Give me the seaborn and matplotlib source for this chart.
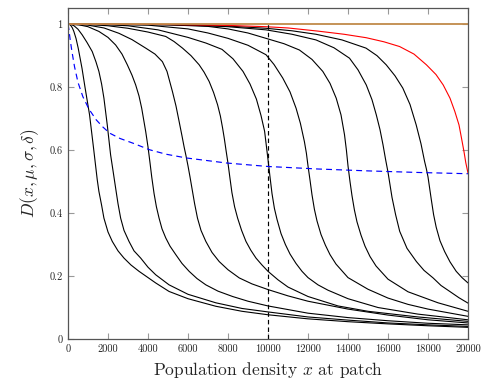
import matplotlib
matplotlib.use("Agg")
import matplotlib.pyplot as plt
import seaborn as sns

# ---------------- DATA ----------------
d1000_x = [0, 80, 150, 220, 292, 400, 510, 700, 844, 1078, 1278, 1462, 1545, 1680, 1796, 2000, 2214, 2500, 2799, 3150, 3551, 4386, 5054, 6000, 7390, 8700, 10000, 12000, 14000, 16000, 18000, 20000]
d1000_y = [1.0, 0.999, 0.995, 0.988, 0.977, 0.955, 0.924, 0.860, 0.802, 0.712, 0.606, 0.506, 0.469, 0.425, 0.384, 0.340, 0.310, 0.280, 0.257, 0.235, 0.215, 0.178, 0.151, 0.128, 0.104, 0.088, 0.077, 0.064, 0.055, 0.048, 0.042, 0.037]

d2000_x = [0, 150, 300, 500, 711, 950, 1212, 1400, 1545, 1680, 1796, 1963, 2130, 2250, 2380, 2500, 2632, 2800, 3050, 3300, 3635, 4000, 4386, 5054, 6000, 7390, 8700, 10000, 12000, 14000, 16000, 18000, 20000]
d2000_y = [1.0, 0.999, 0.995, 0.984, 0.966, 0.942, 0.913, 0.880, 0.850, 0.810, 0.765, 0.680, 0.585, 0.535, 0.480, 0.430, 0.384, 0.345, 0.310, 0.280, 0.257, 0.228, 0.204, 0.172, 0.142, 0.115, 0.097, 0.086, 0.070, 0.060, 0.051, 0.045, 0.040]

d4000_x = [0, 543, 1000, 1545, 2000, 2381, 2700, 2966, 3200, 3384, 3550, 3685, 3885, 4000, 4100, 4186, 4303, 4420, 4553, 4700, 4888, 5100, 5389, 5700, 6056, 6450, 6892, 7500, 8230, 9000, 10000, 12000, 14000, 16000, 18000, 20000]
d4000_y = [1.0, 0.998, 0.992, 0.977, 0.958, 0.934, 0.905, 0.871, 0.838, 0.807, 0.772, 0.733, 0.659, 0.610, 0.560, 0.515, 0.462, 0.420, 0.384, 0.350, 0.321, 0.295, 0.268, 0.240, 0.215, 0.192, 0.172, 0.152, 0.135, 0.120, 0.105, 0.082, 0.068, 0.058, 0.050, 0.045]

d6000_x = [0, 1000, 1800, 2548, 3200, 3885, 4350, 4720, 4950, 5222, 5400, 5556, 5700, 5806, 5900, 6000, 6100, 6200, 6330, 6474, 6650, 6892, 7200, 7560, 8000, 8563, 9200, 10000, 11000, 12000, 14000, 16000, 18000, 20000]
d6000_y = [1.0, 0.997, 0.988, 0.971, 0.951, 0.924, 0.905, 0.881, 0.850, 0.786, 0.740, 0.691, 0.645, 0.610, 0.582, 0.550, 0.515, 0.478, 0.430, 0.384, 0.345, 0.310, 0.275, 0.246, 0.220, 0.194, 0.175, 0.157, 0.137, 0.120, 0.095, 0.076, 0.061, 0.051]

d8000_x = [0, 1000, 2000, 3000, 4000, 4888, 5300, 5725, 6150, 6557, 6800, 7058, 7279, 7479, 7620, 7730, 7820, 7900, 8000, 8100, 8196, 8330, 8481, 8680, 8898, 9140, 9400, 9700, 10000, 10500, 11000, 12000, 13500, 15000, 17500, 20000]
d8000_y = [1.0, 0.999, 0.995, 0.987, 0.975, 0.961, 0.945, 0.924, 0.900, 0.871, 0.848, 0.818, 0.783, 0.744, 0.708, 0.670, 0.635, 0.600, 0.558, 0.510, 0.465, 0.420, 0.384, 0.345, 0.310, 0.282, 0.257, 0.235, 0.215, 0.188, 0.165, 0.135, 0.105, 0.088, 0.070, 0.056]

d10000_x = [0, 2000, 3000, 4500, 6000, 6900, 7700, 8250, 8750, 9100, 9420, 9650, 9830, 10000, 10100, 10200, 10320, 10450, 10650, 10870, 11100, 11400, 11700, 12000, 12500, 13000, 14000, 15500, 17500, 20000]
d10000_y = [1.0, 0.998, 0.995, 0.982, 0.958, 0.940, 0.920, 0.890, 0.850, 0.810, 0.762, 0.710, 0.660, 0.570, 0.515, 0.462, 0.415, 0.380, 0.335, 0.300, 0.270, 0.240, 0.215, 0.195, 0.172, 0.155, 0.128, 0.100, 0.079, 0.061]

d12000_x = [0, 2000, 4000, 6000, 7000, 8000, 9000, 9900, 10300, 10737, 11100, 11404, 11620, 11820, 11920, 12000, 12100, 12200, 12320, 12450, 12650, 12870, 13100, 13400, 14000, 15000, 16000, 17000, 18000, 20000]
d12000_y = [1.0, 0.999, 0.997, 0.985, 0.972, 0.955, 0.933, 0.903, 0.872, 0.829, 0.785, 0.733, 0.685, 0.627, 0.590, 0.550, 0.505, 0.458, 0.412, 0.375, 0.332, 0.298, 0.268, 0.238, 0.195, 0.158, 0.130, 0.110, 0.095, 0.072]

d14000_x = [0, 3000, 5000, 7000, 8000, 9000, 9900, 10800, 11570, 12200, 12740, 13100, 13410, 13650, 13825, 13920, 14000, 14100, 14200, 14320, 14450, 14650, 14850, 15100, 15400, 16000, 17000, 18500, 20000]
d14000_y = [1.0, 0.999, 0.998, 0.993, 0.985, 0.972, 0.955, 0.938, 0.918, 0.888, 0.850, 0.812, 0.765, 0.712, 0.649, 0.600, 0.550, 0.500, 0.455, 0.410, 0.372, 0.330, 0.295, 0.262, 0.232, 0.190, 0.150, 0.115, 0.088]

d16000_x = [0, 4000, 6000, 8000, 9900, 11200, 12400, 13300, 14075, 14500, 14913, 15200, 15415, 15600, 15750, 15880, 16000, 16100, 16200, 16380, 16585, 16950, 17420, 17800, 18255, 18650, 19090, 19550, 20000]
d16000_y = [1.0, 0.999, 0.997, 0.992, 0.982, 0.968, 0.950, 0.925, 0.892, 0.855, 0.807, 0.760, 0.712, 0.665, 0.617, 0.570, 0.530, 0.490, 0.450, 0.395, 0.342, 0.288, 0.246, 0.218, 0.194, 0.170, 0.151, 0.131, 0.114]

d18000_x = [0, 5000, 8000, 9900, 11200, 12400, 13700, 14900, 15450, 15910, 16350, 16740, 17100, 17410, 17650, 17830, 17920, 18000, 18080, 18160, 18280, 18410, 18600, 18830, 19100, 19410, 19700, 20000]
d18000_y = [1.0, 0.999, 0.994, 0.987, 0.979, 0.968, 0.950, 0.924, 0.900, 0.871, 0.836, 0.797, 0.745, 0.680, 0.620, 0.564, 0.540, 0.515, 0.480, 0.445, 0.395, 0.355, 0.312, 0.278, 0.245, 0.215, 0.195, 0.178]

d20000_x = [0, 5000, 8000, 9900, 11000, 12500, 13800, 14913, 15800, 16580, 17300, 17920, 18400, 18760, 19100, 19340, 19550, 19675, 19800, 19890, 19950, 20000]
d20000_y = [1.0, 0.999, 0.996, 0.992, 0.988, 0.978, 0.968, 0.957, 0.944, 0.929, 0.905, 0.871, 0.840, 0.807, 0.765, 0.723, 0.680, 0.638, 0.595, 0.560, 0.542, 0.527]

flat_x = [0, 20000]
flat_y = [1.0, 1.0]

# D at x = mu (dashed blue)
mid_x = [0, 40, 110, 200, 326, 500, 742, 1050, 1413, 1750, 2080, 2600, 3249, 4085, 4900, 5925, 7930, 10000, 12500, 15000, 17500, 20000]
mid_y = [1.0, 0.985, 0.950, 0.912, 0.865, 0.815, 0.770, 0.730, 0.696, 0.673, 0.654, 0.637, 0.622, 0.601, 0.587, 0.575, 0.559, 0.548, 0.540, 0.534, 0.529, 0.525]

vline_x = [10000, 10000]
vline_y = [0.0, 1.0]

black_curves = [
    (d1000_x, d1000_y), (d2000_x, d2000_y), (d4000_x, d4000_y),
    (d6000_x, d6000_y), (d8000_x, d8000_y), (d10000_x, d10000_y),
    (d12000_x, d12000_y), (d14000_x, d14000_y), (d16000_x, d16000_y),
    (d18000_x, d18000_y),
]

# ---------------- STYLE ----------------
sns.set_style("white")
plt.rcParams["font.family"] = ["serif"]
plt.rcParams["font.serif"] = ["cmr10", "DejaVu Serif"]
plt.rcParams["mathtext.fontset"] = "cm"
plt.rcParams["axes.formatter.use_mathtext"] = True

fig = plt.figure(figsize=(4.86, 3.85), dpi=100)
ax = fig.add_axes([68 / 486, 46 / 385, 400 / 486, 331.5 / 385])

# ---------------- PLOT ----------------
for cx, cy in black_curves:
    sns.lineplot(x=cx, y=cy, color="black", lw=0.8, ax=ax, sort=False, estimator=None)

sns.lineplot(x=d20000_x, y=d20000_y, color="red", lw=0.8, ax=ax, sort=False, estimator=None)
sns.lineplot(x=flat_x, y=flat_y, color="#c08a4a", lw=1.3, ax=ax, sort=False, estimator=None)

ln = sns.lineplot(x=mid_x, y=mid_y, color="blue", lw=0.85, ax=ax, sort=False, estimator=None)
ln.lines[-1].set_dashes([5, 3.5])
sns.lineplot(x=vline_x, y=vline_y, color="black", lw=0.85, ax=ax, sort=False, estimator=None)
ax.lines[-1].set_dashes([3.8, 2.6])

# ---------------- AXES ----------------
ax.set_xlim(0, 20000)
ax.set_ylim(0, 1.053)

xt = list(range(0, 20001, 2000))
ax.set_xticks(xt)
ax.set_xticklabels([str(v) for v in xt], fontsize=7.5)
yt = [0, 0.2, 0.4, 0.6, 0.8, 1]
ax.set_yticks(yt)
ax.set_yticklabels(["0", "0.2", "0.4", "0.6", "0.8", "1"], fontsize=7.5)

ax.tick_params(direction="in", length=4.5, width=0.8, color="#999999",
               top=True, right=True, bottom=True, left=True, pad=4)
for sp in ax.spines.values():
    sp.set_color("#555555")
    sp.set_linewidth(0.9)

ax.set_xlabel(r"Population density $x$ at patch", fontsize=12.5, labelpad=4)
ax.set_ylabel(r"$D(x, \mu, \sigma, \delta)$", fontsize=12.5, labelpad=6)

fig.savefig("out.png", dpi=100)
